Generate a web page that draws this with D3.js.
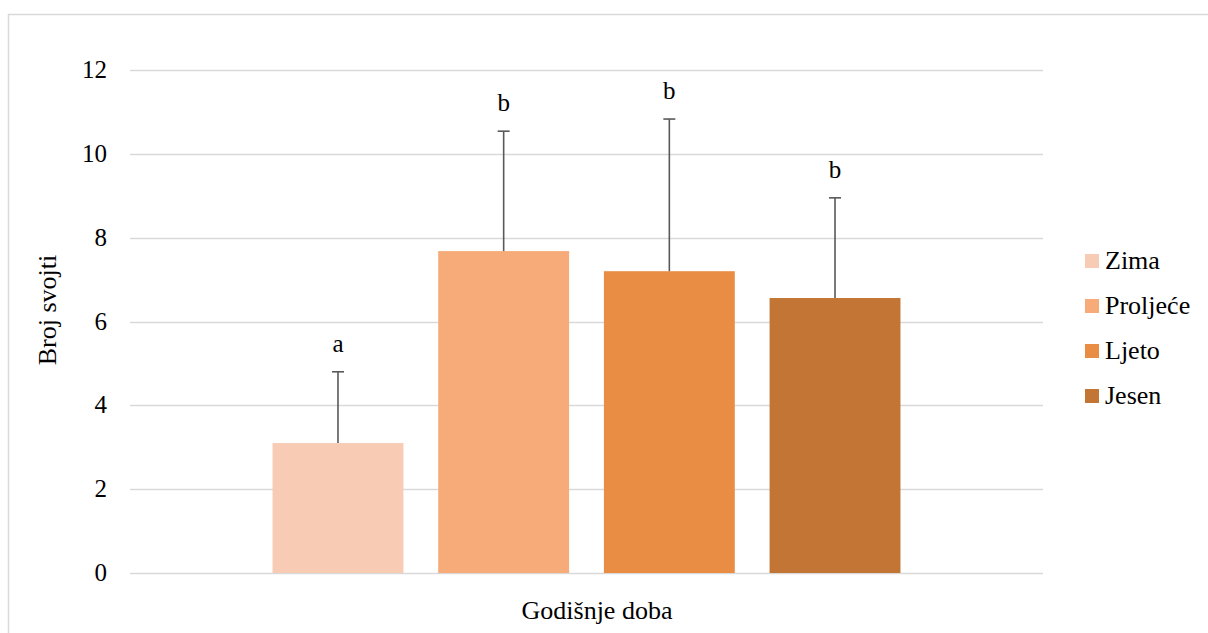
<!DOCTYPE html>
<html>
<head>
<meta charset="utf-8">
<script src="https://cdn.jsdelivr.net/npm/d3@7"></script>
</head>
<body style="margin:0">
<svg id="chart" width="1208" height="633"></svg>
<script>
const categories = ["Zima", "Proljeće", "Ljeto", "Jesen"];
const values = [3.10, 7.68, 7.20, 6.56];
const errors = [1.70, 2.86, 3.63, 2.39];
const letters = ["a", "b", "b", "b"];
const colors = ["#F8CBB4", "#F7AB78", "#E88D43", "#C27534"];
const yTicks = [0, 2, 4, 6, 8, 10, 12];
const xTitle = "Godišnje doba";
const yTitle = "Broj svojti";

const svg = d3.select("#chart");

// outer frame
svg.append("rect").attr("x", 8.5).attr("y", 14.5).attr("width", 1220).attr("height", 640)
  .attr("fill", "#fff").attr("stroke", "#d9d9d9").attr("stroke-width", 1.5);

const plot = { left: 130, right: 1043, top: 70, bottom: 573 };

const y = d3.scaleLinear().domain([0, 12]).range([plot.bottom, plot.top]);

const xGroup = d3.scaleBand().domain(["g"]).range([plot.left, plot.right]).paddingInner(0).paddingOuter(0.227);
const xSeries = d3.scaleBand().domain(categories).range([xGroup("g"), xGroup("g") + xGroup.bandwidth()]).paddingInner(0.21).paddingOuter(0);

// gridlines
svg.append("g").selectAll("line").data(yTicks).join("line")
  .attr("x1", plot.left).attr("x2", plot.right)
  .attr("y1", d => Math.round(y(d)) + 0.5).attr("y2", d => Math.round(y(d)) + 0.5)
  .attr("stroke", "#d9d9d9").attr("stroke-width", 1.5);

// y tick labels
svg.selectAll("text.tick").data(yTicks).join("text").attr("class", "tick")
  .attr("x", plot.left - 23).attr("y", d => y(d) + 8)
  .attr("text-anchor", "end")
  .attr("font-family", "Times New Roman").attr("font-size", 25).text(d => d);

// bars
svg.append("g").selectAll("rect").data(categories).join("rect")
  .attr("x", d => xSeries(d)).attr("width", xSeries.bandwidth())
  .attr("y", (d, i) => y(values[i])).attr("height", (d, i) => y(0) - y(values[i]))
  .attr("fill", (d, i) => colors[i]);

// error bars
const eb = svg.append("g").attr("stroke", "#595959").attr("stroke-width", 1.6);
categories.forEach((c, i) => {
  const cx = xSeries(c) + xSeries.bandwidth() / 2;
  const top = y(values[i] + errors[i]);
  eb.append("line").attr("x1", cx).attr("x2", cx).attr("y1", y(values[i])).attr("y2", top);
  eb.append("line").attr("x1", cx - 6).attr("x2", cx + 6).attr("y1", top).attr("y2", top);
});
svg.selectAll("text.sig").data(categories).join("text").attr("class", "sig")
  .attr("x", d => xSeries(d) + xSeries.bandwidth() / 2)
  .attr("y", (d, i) => y(values[i] + errors[i]) - 20)
  .attr("text-anchor", "middle")
  .attr("font-family", "Times New Roman").attr("font-size", 25).text((d, i) => letters[i]);

// axis titles
svg.append("text").attr("x", 597).attr("y", 619).attr("text-anchor", "middle")
  .attr("font-family", "Times New Roman").attr("font-size", 26).text(xTitle);
svg.append("text").attr("transform", "translate(56,310) rotate(-90)").attr("text-anchor", "middle")
  .attr("font-family", "Times New Roman").attr("font-size", 26).text(yTitle);

// legend
svg.selectAll("rect.sw").data(categories).join("rect").attr("class", "sw")
  .attr("x", 1085).attr("y", (d, i) => 254 + i * 45).attr("width", 14).attr("height", 14)
  .attr("fill", (d, i) => colors[i]);
svg.selectAll("text.lg").data(categories).join("text").attr("class", "lg")
  .attr("x", 1105).attr("y", (d, i) => 269 + i * 45)
  .attr("font-family", "Times New Roman").attr("font-size", 26).text(d => d);
</script>
</body>
</html>
